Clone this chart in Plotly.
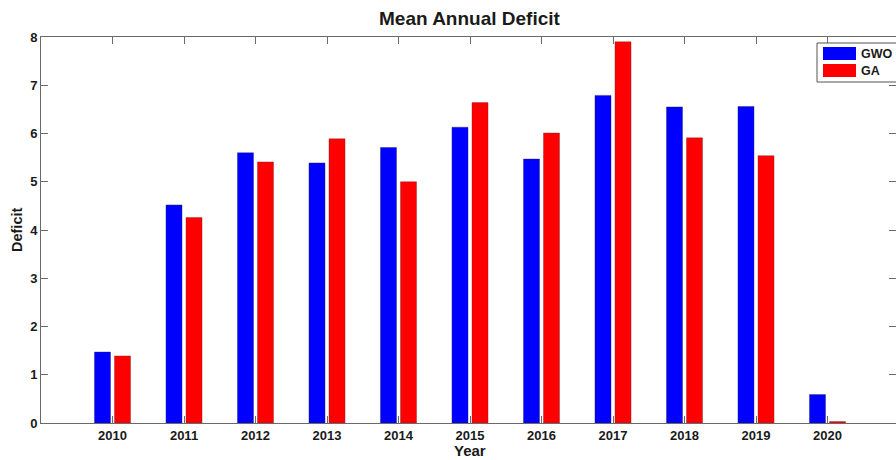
import plotly.graph_objects as go

years = [2010, 2011, 2012, 2013, 2014, 2015, 2016, 2017, 2018, 2019, 2020]
series_names = ["GWO", "GA"]
gwo = [1.47, 4.52, 5.60, 5.39, 5.71, 6.13, 5.47, 6.79, 6.55, 6.56, 0.59]
ga = [1.39, 4.26, 5.41, 5.89, 5.00, 6.64, 6.01, 7.90, 5.91, 5.54, 0.03]
colors = ["#0000FF", "#FF0000"]
y_ticks = [0, 1, 2, 3, 4, 5, 6, 7, 8]

W, H = 896, 460
ML, MR, MT, MB = 41, 0, 37, 37
PW, PH = W - ML - MR, H - MT - MB
FONT = "Arial, Liberation Sans, Helvetica, sans-serif"
TXT = "#1a1a1a"
AX = "#6a6a6a"

def px(x):
    return (x - ML) / PW

def py(y):
    return (H - MB - y) / PH

fig = go.Figure()
for name, vals, c in zip(series_names, [gwo, ga], colors):
    fig.add_trace(go.Bar(
        x=years, y=vals, name=name,
        marker=dict(color=c, line=dict(color="#202060" if c == "#0000FF" else "#802020", width=0.4)),
        showlegend=False,
    ))

# custom MATLAB-like legend box
shapes = [dict(type="rect", xref="paper", yref="paper",
               x0=px(817), x1=px(899), y0=py(82), y1=py(43),
               line=dict(color="#555", width=1), fillcolor="white", layer="above")]
annotations = []
for i, (name, c) in enumerate(zip(series_names, colors)):
    top = 47 + i * 17
    shapes.append(dict(type="rect", xref="paper", yref="paper",
                       x0=px(823), x1=px(856), y0=py(top + 13), y1=py(top),
                       line=dict(color=c, width=0), fillcolor=c, layer="above"))
    annotations.append(dict(text=f"<b>{name}</b>", xref="paper", yref="paper",
                            x=px(859), y=py(top + 6.5), xanchor="left", yanchor="middle",
                            showarrow=False, font=dict(family=FONT, size=12.5, color=TXT)))

annotations.append(dict(text="<b>Deficit</b>", xref="paper", yref="paper",
                        x=px(17), y=py(230), textangle=-90, showarrow=False,
                        xanchor="center", yanchor="middle",
                        font=dict(family=FONT, size=14.5, color=TXT)))
annotations.append(dict(text="<b>Year</b>", xref="paper", yref="paper",
                        x=px(470), y=py(450), showarrow=False,
                        xanchor="center", yanchor="middle",
                        font=dict(family=FONT, size=15, color=TXT)))
annotations.append(dict(text="<b>Mean Annual Deficit</b>", xref="paper", yref="paper",
                        x=px(470), y=py(18), showarrow=False,
                        xanchor="center", yanchor="middle",
                        font=dict(family=FONT, size=19, color=TXT)))

fig.update_layout(
    width=W, height=H,
    margin=dict(l=ML, r=MR, t=MT, b=MB, pad=0),
    paper_bgcolor="white", plot_bgcolor="white",
    barmode="group", bargap=0.44, bargroupgap=0.2,
    font=dict(family=FONT, color=TXT),
    shapes=shapes, annotations=annotations,
)
fig.update_xaxes(
    range=[2009, 2009 + PW / 71.5], tickmode="array", tickvals=years,
    ticktext=[f"<b>{y}</b>" for y in years],
    ticks="inside", ticklen=7, tickcolor=AX, tickwidth=1,
    showline=True, linecolor=AX, linewidth=1, mirror="ticks",
    showgrid=False, zeroline=False,
    tickfont=dict(family=FONT, size=13, color=TXT),
)
fig.update_yaxes(
    range=[0, 8], tickmode="array", tickvals=y_ticks,
    ticktext=[f"<b>{v}</b>" for v in y_ticks],
    ticks="inside", ticklen=7, tickcolor=AX, tickwidth=1,
    showline=True, linecolor=AX, linewidth=1, mirror="ticks",
    showgrid=False, zeroline=False,
    tickfont=dict(family=FONT, size=13, color=TXT),
)

fig.write_html("out.html")
